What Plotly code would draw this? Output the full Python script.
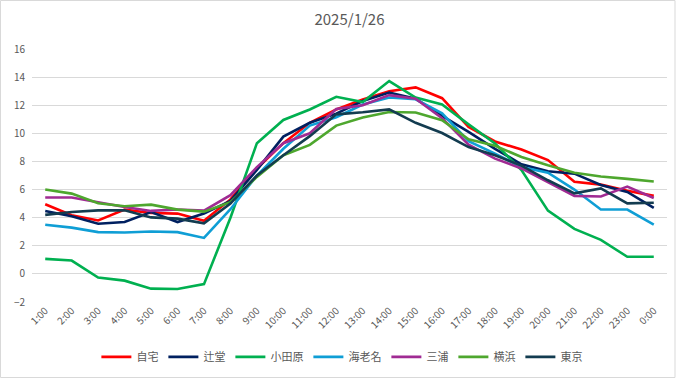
import plotly.graph_objects as go

hours = ["1:00", "2:00", "3:00", "4:00", "5:00", "6:00", "7:00", "8:00", "9:00", "10:00",
         "11:00", "12:00", "13:00", "14:00", "15:00", "16:00", "17:00", "18:00", "19:00",
         "20:00", "21:00", "22:00", "23:00", "0:00"]

jitaku = [4.95, 4.17, 3.8, 4.57, 4.33, 4.29, 3.78, 5.3, 7.5, 9.3, 10.75, 11.7, 12.4, 13.0,
          13.27, 12.5, 10.45, 9.42, 8.85, 8.1, 6.55, 6.35, 5.92, 5.55]
tsujido = [4.48, 4.1, 3.57, 3.69, 4.4, 3.69, 4.29, 5.2, 7.4, 9.77, 10.75, 11.4, 12.3, 12.9,
           12.47, 11.24, 10.1, 8.9, 7.8, 7.3, 7.13, 6.33, 5.83, 4.7]
odawara = [1.07, 0.95, -0.26, -0.48, -1.05, -1.07, -0.73, 4.0, 9.3, 10.95, 11.7, 12.6, 12.22,
           13.72, 12.55, 12.05, 10.64, 9.28, 7.38, 4.5, 3.2, 2.42, 1.22, 1.22]
ebina = [3.5, 3.29, 2.97, 2.95, 3.02, 2.97, 2.56, 4.6, 7.0, 8.9, 10.55, 11.15, 12.05, 12.55,
         12.42, 11.42, 9.45, 8.56, 7.6, 7.2, 6.0, 4.58, 4.58, 3.5]
miura = [5.43, 5.43, 5.1, 4.76, 4.48, 4.58, 4.5, 5.6, 7.6, 9.3, 10.0, 11.73, 12.0, 12.72,
         12.46, 11.08, 9.2, 8.2, 7.5, 6.54, 5.55, 5.51, 6.21, 5.4]
yokohama = [6.0, 5.71, 5.03, 4.81, 4.93, 4.57, 4.43, 5.1, 6.9, 8.44, 9.18, 10.55, 11.12, 11.52,
            11.48, 10.93, 9.58, 9.12, 8.32, 7.73, 7.2, 6.93, 6.76, 6.57]
tokyo = [4.2, 4.4, 4.52, 4.52, 4.02, 3.93, 3.6, 5.0, 7.0, 8.44, 9.8, 11.35, 11.5, 11.7,
         10.75, 10.02, 9.02, 8.44, 7.7, 6.66, 5.73, 6.08, 5.02, 5.06]

series_names = ["自宅", "辻堂", "小田原", "海老名", "三浦", "横浜", "東京"]
series_values = [jitaku, tsujido, odawara, ebina, miura, yokohama, tokyo]
series_colors = ["#FF0000", "#002060", "#00B050", "#0F9ED5", "#A02B93", "#4EA72E", "#133C50"]

fig = go.Figure()
for name, vals, col in zip(series_names, series_values, series_colors):
    fig.add_trace(go.Scatter(x=hours, y=vals, mode="lines", name=name,
                             line=dict(color=col, width=2.6)))

gray = "#595959"
fig.update_layout(
    width=681, height=378,
    margin=dict(l=32, r=14, t=49, b=76, autoexpand=False),
    paper_bgcolor="white", plot_bgcolor="white",
    font=dict(family="Noto Sans CJK JP, sans-serif", color=gray, size=10),
    title=dict(text="2025/1/26", x=0.5, xref="paper", xanchor="center",
               y=1 - 20 / 378, yanchor="middle",
               font=dict(size=15, color=gray)),
    showlegend=True,
    legend=dict(orientation="h", x=0.488, xanchor="center", y=-0.217, yanchor="middle",
                font=dict(size=11, color=gray), itemwidth=30, tracegroupgap=0,
                bgcolor="rgba(0,0,0,0)"),
    xaxis=dict(type="category", range=[-0.5, 23.5], tickangle=-45, showgrid=False,
               showline=False, ticks="", tickfont=dict(size=10, color=gray),
               automargin=False, fixedrange=True),
    yaxis=dict(range=[-2, 16], dtick=2, tick0=0, showgrid=True, gridcolor="#D9D9D9",
               gridwidth=1, zeroline=False, showline=False, ticks="",
               ticklabelstandoff=6, tickfont=dict(size=10, color=gray),
               automargin=False, fixedrange=True),
)

fig.add_shape(type="rect", xref="paper", yref="paper",
              x0=-31.5 / 635, x1=(675 - 32) / 635,
              y0=-(75.5 / 253), y1=1 + 48.5 / 253,
              line=dict(color="#D9D9D9", width=1), fillcolor="rgba(0,0,0,0)", layer="below")

fig.write_html("out.html", config={"displayModeBar": False},
               post_script="document.body.style.margin='0';document.body.style.padding='0';")
